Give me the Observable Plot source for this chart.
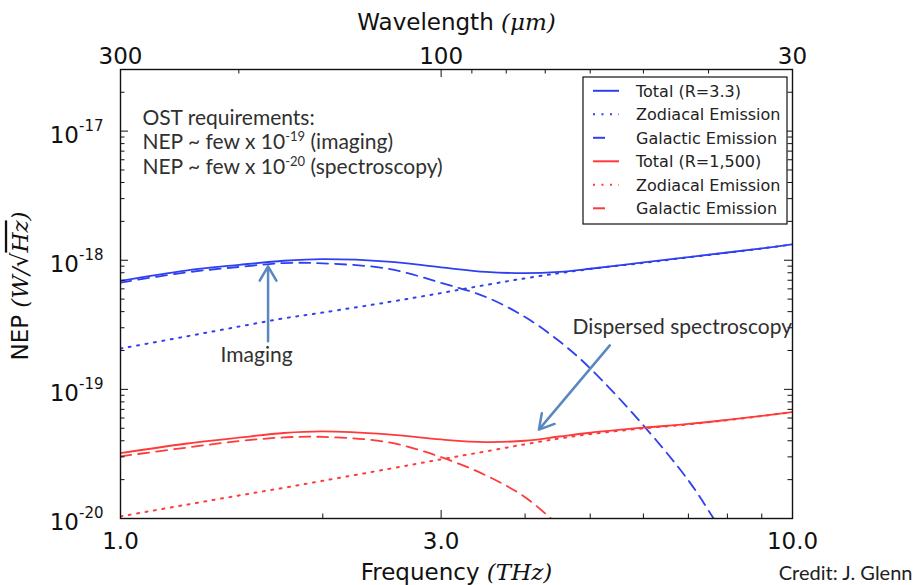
<!DOCTYPE html>
<html><head><meta charset="utf-8">
<script src="https://cdn.jsdelivr.net/npm/d3@7"></script>
<script src="https://cdn.jsdelivr.net/npm/@observablehq/plot@0.6"></script>
<style>html,body{margin:0;padding:0;background:#fff;}#chart{width:916px;height:585px;}</style>
</head><body><div id="chart"></div>
<script>
// ---------------- data ----------------
const freqTHz = [1.0, 1.25, 1.5, 1.75, 2.0, 2.5, 3.0, 3.5, 4.0, 4.5, 5.0, 6.0, 7.0, 8.0, 9.0, 10.0];
const blueTotal = [6.918e-19, 8.318e-19, 9.204e-19, 9.908e-19, 1.019e-18, 9.772e-19, 8.810e-19, 8.128e-19, 7.943e-19, 8.128e-19, 8.590e-19, 9.610e-19, 1.057e-18, 1.148e-18, 1.236e-18, 1.327e-18];
const blueZodi  = [2.070e-19, 2.564e-19, 3.062e-19, 3.548e-19, 3.936e-19, 4.732e-19, 5.572e-19, 6.442e-19, 7.244e-19, 7.943e-19, 8.551e-19, 9.550e-19, 1.052e-18, 1.143e-18, 1.233e-18, 1.324e-18];
const blueGalFreq = [1.0, 1.25, 1.5, 1.75, 2.0, 2.5, 3.0, 3.5, 4.0, 4.5, 5.0, 6.0, 7.0, 7.5, 8.0];
const blueGal   = [6.714e-19, 8.035e-19, 8.872e-19, 9.506e-19, 9.462e-19, 8.590e-19, 6.683e-19, 5.188e-19, 3.631e-19, 2.355e-19, 1.455e-19, 5.26e-20, 1.972e-20, 1.153e-20, 6.76e-21];
const redTotal  = [3.206e-20, 3.793e-20, 4.227e-20, 4.592e-20, 4.721e-20, 4.477e-20, 4.093e-20, 3.908e-20, 4.000e-20, 4.315e-20, 4.613e-20, 5.047e-20, 5.395e-20, 5.808e-20, 6.237e-20, 6.668e-20];
const redZodi   = [1.038e-20, 1.276e-20, 1.507e-20, 1.730e-20, 1.959e-20, 2.415e-20, 2.871e-20, 3.311e-20, 3.758e-20, 4.169e-20, 4.508e-20, 4.989e-20, 5.358e-20, 5.781e-20, 6.223e-20, 6.653e-20];
const redGalFreq = [1.0, 1.25, 1.5, 1.75, 2.0, 2.5, 3.0, 3.5, 4.0, 4.5];
const redGal    = [3.027e-20, 3.532e-20, 3.972e-20, 4.246e-20, 4.285e-20, 3.899e-20, 2.985e-20, 2.153e-20, 1.462e-20, 8.71e-21];

const seriesNames = ["Total (R=3.3)", "Zodiacal Emission", "Galactic Emission", "Total (R=1,500)", "Zodiacal Emission", "Galactic Emission"];

// ticks
const xMajor = [1, 3, 10];
const xTickLabels = ["1.0", "3.0", "10.0"];
const xMinor = [2, 4, 5, 6, 7, 8, 9];
const C_UM_THZ = 300; // nu[THz] = 300 / lambda[um]
const wlMajor = [300, 100, 30];
const wlTickLabels = ["300", "100", "30"];
const wlMinor = [200, 90, 80, 70, 60, 50, 40];
const yMajor = [1e-20, 1e-19, 1e-18, 1e-17];
const yTickExp = ["-20", "-19", "-18", "-17"];
const yMinorMult = [2, 3, 4, 5, 6, 7, 8, 9];

// annotations
const noteLines = ["OST requirements:", "NEP ~ few x 10^{-19} (imaging)", "NEP ~ few x 10^{-20} (spectroscopy)"];
const noteX = [1.078, 1.078, 1.078];
const noteY = [1.254e-17, 8.13e-18, 5.23e-18];
const labelTexts = ["Imaging", "Dispersed spectroscopy"];
const labelX = [1.594, 4.707];
const labelY = [1.837e-19, 3.048e-19];
const arrowX1 = [1.658, 5.347], arrowY1 = [2.36e-19, 2.19e-19];
const arrowX2 = [1.658, 4.194], arrowY2 = [8.98e-19, 4.88e-20];

// ---------------- layout / style ----------------
const W = 916, H = 585, ML = 120, MR = 124, MT = 69, MB = 67;
const FW = W - ML - MR, FH = H - MT - MB;
const BLUE = "#2f40f0", RED = "#ff3a3a", ARROW = "#5a87c0", INK = "#111";
const styles = [
  {color: BLUE, dash: null, width: 1.8, legDash: null},
  {color: BLUE, dash: "2,6.5", width: 2, legDash: "2,6.5"},
  {color: BLUE, dash: "11,7", width: 1.8, legDash: "12,30"},
  {color: RED, dash: null, width: 1.8, legDash: null},
  {color: RED, dash: "2,6.5", width: 2, legDash: "2,6.5"},
  {color: RED, dash: "11,7", width: 1.8, legDash: "12,30"}
];
const seriesData = [
  [freqTHz, blueTotal], [freqTHz, blueZodi], [blueGalFreq, blueGal],
  [freqTHz, redTotal], [freqTHz, redZodi], [redGalFreq, redGal]
];

const yMinor = [];
for (const d of yMajor) for (const m of yMinorMult) if (m * d < 2.999e-17) yMinor.push(m * d);

const marks = [];
seriesData.forEach(([fx, vy], k) => {
  const st = styles[k];
  marks.push(Plot.line(fx.map((f, i) => ({f, v: vy[i]})), {
    x: "f", y: "v", stroke: st.color, strokeWidth: st.width,
    strokeDasharray: st.dash, curve: "catmull-rom", clip: true
  }));
});

// ticks (inward)
const tk = (len) => FH - len, tkY = (len) => FW - len;
marks.push(
  Plot.ruleX(xMajor, {x: d => d, insetTop: tk(8), stroke: INK}),
  Plot.ruleX(xMinor, {x: d => d, insetTop: tk(4.5), stroke: INK}),
  Plot.ruleX(wlMajor, {x: d => C_UM_THZ / d, insetBottom: tk(8), stroke: INK}),
  Plot.ruleX(wlMinor, {x: d => C_UM_THZ / d, insetBottom: tk(4.5), stroke: INK}),
  Plot.ruleY(yMajor, {y: d => d, insetRight: tkY(8), stroke: INK}),
  Plot.ruleY(yMinor, {y: d => d, insetRight: tkY(4.5), stroke: INK}),
  Plot.ruleY(yMajor, {y: d => d, insetLeft: tkY(8), stroke: INK}),
  Plot.ruleY(yMinor, {y: d => d, insetLeft: tkY(4.5), stroke: INK}),
  Plot.frame({stroke: INK, strokeWidth: 1.4})
);

// tick labels
marks.push(
  Plot.text(xMajor, {x: d => d, frameAnchor: "bottom", lineAnchor: "middle", dy: 23.5, text: (d, i) => xTickLabels[i], fontSize: 23, fill: INK}),
  Plot.text(wlMajor, {x: d => C_UM_THZ / d, frameAnchor: "top", lineAnchor: "middle", dy: -12.5, text: (d, i) => wlTickLabels[i], fontSize: 23, fill: INK}),
  Plot.text(yMajor, {y: d => d, frameAnchor: "left", lineAnchor: "middle", dx: -17, dy: 4.5, textAnchor: "end", text: (d, i) => `10^{${yTickExp[i]}}`, fontSize: 23, fill: INK})
);

// axis titles
marks.push(
  Plot.text(["Wavelength *{(μm)}"], {frameAnchor: "top", lineAnchor: "middle", textAnchor: "middle", dy: -46.5, text: d => d, fontSize: 23, fill: INK}),
  Plot.text(["Frequency *{(THz)}"], {frameAnchor: "bottom", lineAnchor: "middle", textAnchor: "middle", dy: 54.5, text: d => d, fontSize: 23, fill: INK}),
  Plot.text(["NEP *{(W/√}!{Hz}*{)}"], {frameAnchor: "left", lineAnchor: "middle", textAnchor: "middle", dx: -100, dy: -8, rotate: -90, text: d => d, fontSize: 23, fill: INK})
);

// annotations
marks.push(
  Plot.arrow(arrowX1.map((_, i) => i), {x1: i => arrowX1[i], y1: i => arrowY1[i], x2: i => arrowX2[i], y2: i => arrowY2[i], stroke: ARROW, strokeWidth: 2.5, headLength: 10}),
  Plot.text(noteLines.map((_, i) => i), {x: i => noteX[i], y: i => noteY[i], text: i => noteLines[i], textAnchor: "start", lineAnchor: "middle", fontFamily: "Lato", fontSize: 21, fill: "#303030"}),
  Plot.text([0], {x: i => labelX[0], y: i => labelY[0], text: i => labelTexts[0], textAnchor: "middle", lineAnchor: "middle", fontFamily: "Lato", fontSize: 21, fill: "#303030"}),
  Plot.text([1], {x: i => labelX[1], y: i => labelY[1], text: i => labelTexts[1], textAnchor: "start", lineAnchor: "middle", fontFamily: "Lato", fontSize: 21, fill: "#303030"}),
  Plot.text(["Credit: J. Glenn"], {frameAnchor: "bottom-right", lineAnchor: "middle", dx: 120, dy: 55, textAnchor: "end", text: d => d, fontFamily: "Lato", fontSize: 20, fill: "#202020"})
);

const plot = Plot.plot({
  width: W, height: H,
  marginLeft: ML, marginRight: MR, marginTop: MT, marginBottom: MB,
  x: {type: "log", domain: [1, 10], axis: null},
  y: {type: "log", domain: [1e-20, 3e-17], axis: null},
  style: {fontFamily: "DejaVu Sans", background: "#fff", color: INK, overflow: "visible"},
  marks
});
document.getElementById("chart").appendChild(plot);

// rich text: ^{sup}, *{italic serif}, !{italic serif overlined}
const NS = "http://www.w3.org/2000/svg";
plot.querySelectorAll("text").forEach(el => {
  const s = el.textContent;
  if (!/[\^*!]\{/.test(s)) return;
  const base = parseFloat(getComputedStyle(el).fontSize) || 20;
  const lato = /Lato/.test(getComputedStyle(el).fontFamily);
  const supSize = Math.round(base * (lato ? 0.62 : 0.66));
  const raise = Math.round(base * (lato ? 0.36 : 0.5));
  const parts = s.split(/([\^*!]\{[^}]*\})/).filter(p => p.length);
  el.textContent = "";
  let shifted = 0;
  for (const p of parts) {
    const t = document.createElementNS(NS, "tspan");
    const m = p.match(/^([\^*!])\{([^}]*)\}$/);
    let txt = p, kind = null;
    if (m) { kind = m[1]; txt = m[2]; }
    t.textContent = txt;
    if (kind === "^") {
      t.setAttribute("font-size", supSize);
      t.setAttribute("dy", -raise);
      shifted = raise;
    } else {
      if (shifted) { t.setAttribute("dy", shifted); shifted = 0; }
      if (kind === "*" || kind === "!") {
        t.setAttribute("font-family", "DejaVu Serif");
        t.setAttribute("font-style", "italic");
      }
      if (kind === "!") t.setAttribute("style", "text-decoration: overline");
    }
    el.appendChild(t);
  }
});

// legend
const leg = d3.select(plot).append("g").attr("font-family", "DejaVu Sans").attr("font-size", 16).attr("text-anchor", "start");
leg.append("rect").attr("x", 583).attr("y", 77).attr("width", 204).attr("height", 147)
  .attr("fill", "#fff").attr("stroke", INK).attr("stroke-width", 1.2);
seriesNames.forEach((name, i) => {
  const cy = 90.8 + i * 23.5, st = styles[i];
  leg.append("line").attr("x1", 593).attr("x2", 619).attr("y1", cy).attr("y2", cy)
    .attr("stroke", st.color).attr("stroke-width", 2).attr("stroke-dasharray", st.legDash);
  leg.append("text").attr("x", 636).attr("y", cy).attr("dy", "0.36em").attr("text-anchor", "start").attr("fill", "#222").text(name);
});
</script></body></html>
